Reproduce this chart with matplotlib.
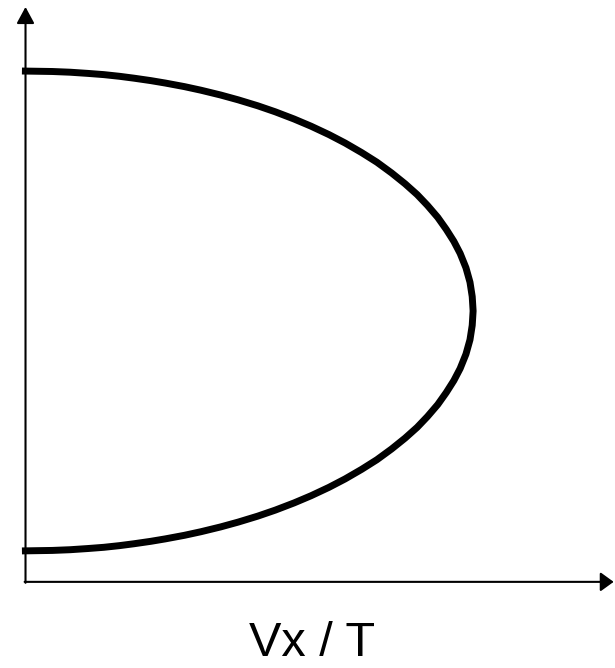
import matplotlib.pyplot as plt

# boundary curve: Vx/T (horizontal) against the vertical coordinate
vx_t = [-0.008, 0.06, 0.10, 0.14, 0.175, 0.21, 0.243, 0.28, 0.312, 0.355,
        0.392, 0.436, 0.475, 0.519, 0.558, 0.60, 0.638, 0.678, 0.714, 0.751,
        0.785, 0.818, 0.848, 0.875, 0.898, 0.921, 0.940, 0.957, 0.971, 0.984,
        0.993, 0.998, 1.000,
        0.998, 0.993, 0.984, 0.971, 0.957, 0.940, 0.921, 0.898, 0.875,
        0.848, 0.818, 0.785, 0.751, 0.714, 0.678, 0.638, 0.60, 0.558, 0.519,
        0.475, 0.436, 0.392, 0.355, 0.312, 0.28, 0.243, 0.21, 0.175, 0.14,
        0.10, 0.06, -0.008]
height = [1.000, 0.998, 0.995, 0.99, 0.985, 0.978, 0.97, 0.96, 0.95, 0.935,
          0.92, 0.90, 0.88, 0.855, 0.83, 0.80, 0.77, 0.735, 0.70, 0.66,
          0.62, 0.575, 0.53, 0.485, 0.44, 0.39, 0.34, 0.29, 0.24, 0.18,
          0.12, 0.06, 0.00,
          -0.06, -0.12, -0.18, -0.24, -0.29, -0.34, -0.39, -0.44, -0.485,
          -0.53, -0.575, -0.62, -0.66, -0.70, -0.735, -0.77, -0.80, -0.83,
          -0.855, -0.88, -0.90, -0.92, -0.935, -0.95, -0.96, -0.97, -0.978,
          -0.985, -0.99, -0.995, -0.998, -1.000]

xlabel = "Vx / T"

fig = plt.figure(figsize=(6.15, 6.68), dpi=100)
ax = fig.add_axes([0, 0, 1, 1])
ax.set_xlim(-0.057, 1.317)
ax.set_ylim(-1.488, 1.296)
ax.axis("off")

# axes drawn as arrows from the origin
x0, y0 = 0.0, -1.129
ax.annotate("", xy=(x0, 1.267), xytext=(x0, y0 - 0.004),
            arrowprops=dict(arrowstyle="-|>,head_length=10,head_width=5.4",
                            mutation_scale=1, lw=1.5, color="black",
                            shrinkA=0, shrinkB=0))
ax.annotate("", xy=(1.314, y0), xytext=(x0 - 0.002, y0),
            arrowprops=dict(arrowstyle="-|>,head_length=8,head_width=5.8",
                            mutation_scale=1, lw=1.5, color="black",
                            shrinkA=0, shrinkB=0))

ax.plot(vx_t, height, color="black", lw=5, solid_capstyle="butt",
        solid_joinstyle="round")

ax.text(0.640, -1.440, xlabel, ha="center", va="baseline",
        fontsize=35, family="Liberation Sans")

fig.savefig("out.png", dpi=100)
